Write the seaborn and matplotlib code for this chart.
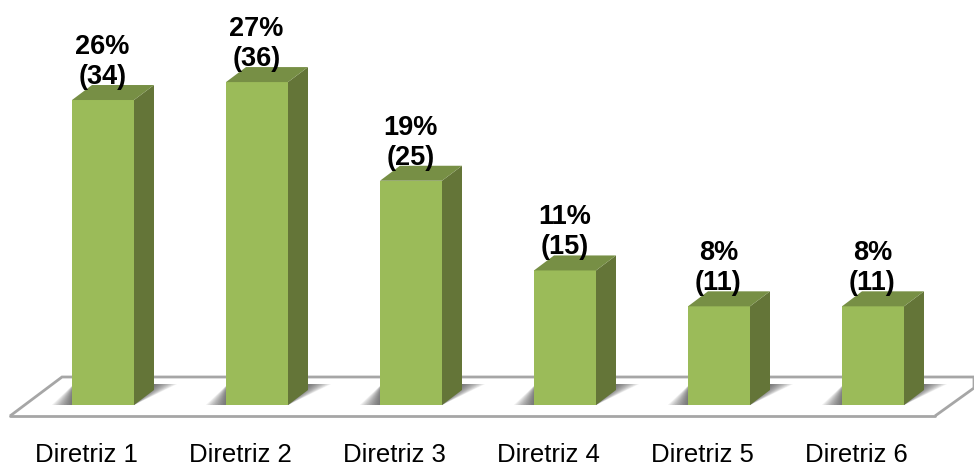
import matplotlib
matplotlib.use("Agg")
import matplotlib.pyplot as plt
from matplotlib.patches import Polygon
import pandas as pd
import seaborn as sns

# Chart data
categories = ["Diretriz 1", "Diretriz 2", "Diretriz 3", "Diretriz 4", "Diretriz 5", "Diretriz 6"]
counts = [34, 36, 25, 15, 11, 11]
percents = ["26%", "27%", "19%", "11%", "8%", "8%"]

# Layout in pixels of the 974x468 picture
W, H = 974, 468
BASE_Y = 405       # bottom of the bars
FIRST_X = 103      # centre of the first bar
STEP_X = 154       # distance between bars
PX_PER_UNIT = 8.97
DEPTH_X, DEPTH_Y = 20, 15
TICK_SHIFT = -17   # tick labels sit left of the bars

FRONT = "#9BBB59"
TOP = "#778F45"
SIDE = "#647538"
FLOOR_LINE = "#A6A6A6"

sns.set_theme(style="white")
plt.rcParams["font.family"] = ["Liberation Sans", "DejaVu Sans"]


def to_x(px):
    return (px - FIRST_X) / STEP_X


def to_y(py):
    return (BASE_Y - py) / PX_PER_UNIT


df = pd.DataFrame({"categoria": categories, "n": counts})

fig = plt.figure(figsize=(W / 100, H / 100), dpi=100)
ax = fig.add_axes([0, (H - BASE_Y) / H, 1, BASE_Y / H])

sns.barplot(data=df, x="categoria", y="n", color=FRONT, width=62 / STEP_X,
            saturation=1, ax=ax, zorder=5)

ax.set_xlim(to_x(0), to_x(W))
ax.set_ylim(0, to_y(0))
ax.set_xlabel("")
ax.set_ylabel("")
ax.set_yticks([])
ax.set_xticks([])
sns.despine(ax=ax, left=True, bottom=True)
ax.patch.set_alpha(0)

# Floor plate
floor_x = [to_x(p) for p in (10, 62, 974, 974, 935)]
floor_y = [to_y(p) for p in (416, 377, 377, 388, 416)]
ax.add_patch(Polygon(list(zip(floor_x, floor_y)), closed=False, fill=False,
                     edgecolor=FLOOR_LINE, linewidth=2, clip_on=False, zorder=1))
ax.plot([to_x(10), to_x(935)], [to_y(416), to_y(416)], color=FLOOR_LINE,
        linewidth=2, clip_on=False, zorder=1)

dx = DEPTH_X / STEP_X
dy = DEPTH_Y / PX_PER_UNIT
shadow_h = 21 / PX_PER_UNIT

for bar, pct, n, name in zip(ax.patches, percents, counts, categories):
    left = bar.get_x()
    right = left + bar.get_width()
    top = bar.get_height()
    mid = left + bar.get_width() / 2
    bar.set_edgecolor("none")

    # Soft shadow on the floor, stacked from wide to narrow
    layers = 12
    for k in range(layers):
        grow_l = 20 * (1 - k / layers) / STEP_X
        grow_r = 23 * (1 - k / layers) / STEP_X
        ax.add_patch(Polygon(
            [(left - grow_l, 0), (right, 0), (right + dx + grow_r, shadow_h),
             (left + 2 / STEP_X, shadow_h)],
            facecolor="#303030", edgecolor="none", alpha=0.08,
            clip_on=False, zorder=2))

    # Side and top faces of the block
    ax.add_patch(Polygon([(right, 0), (right + dx, dy), (right + dx, top + dy), (right, top)],
                         facecolor=SIDE, edgecolor="none", zorder=5))
    ax.add_patch(Polygon([(left, top), (left + dx, top + dy), (right + dx, top + dy), (right, top)],
                         facecolor=TOP, edgecolor="none", zorder=5))

    # Value label
    ax.annotate(f"{pct}\n({n})", xy=(mid, top),
                xytext=(-0.5 * 0.72, 38 * 0.72), textcoords="offset points",
                ha="center", va="center", fontsize=19.5, fontweight="bold",
                linespacing=1.2, color="black", zorder=10)

    # Category label
    ax.annotate(name, xy=(mid, 0), xytext=(TICK_SHIFT * 0.72, -50 * 0.72),
                textcoords="offset points", ha="center", va="center",
                fontsize=18.5, color="black", annotation_clip=False)

fig.savefig("out.png", dpi=100, facecolor="white")
plt.close(fig)
